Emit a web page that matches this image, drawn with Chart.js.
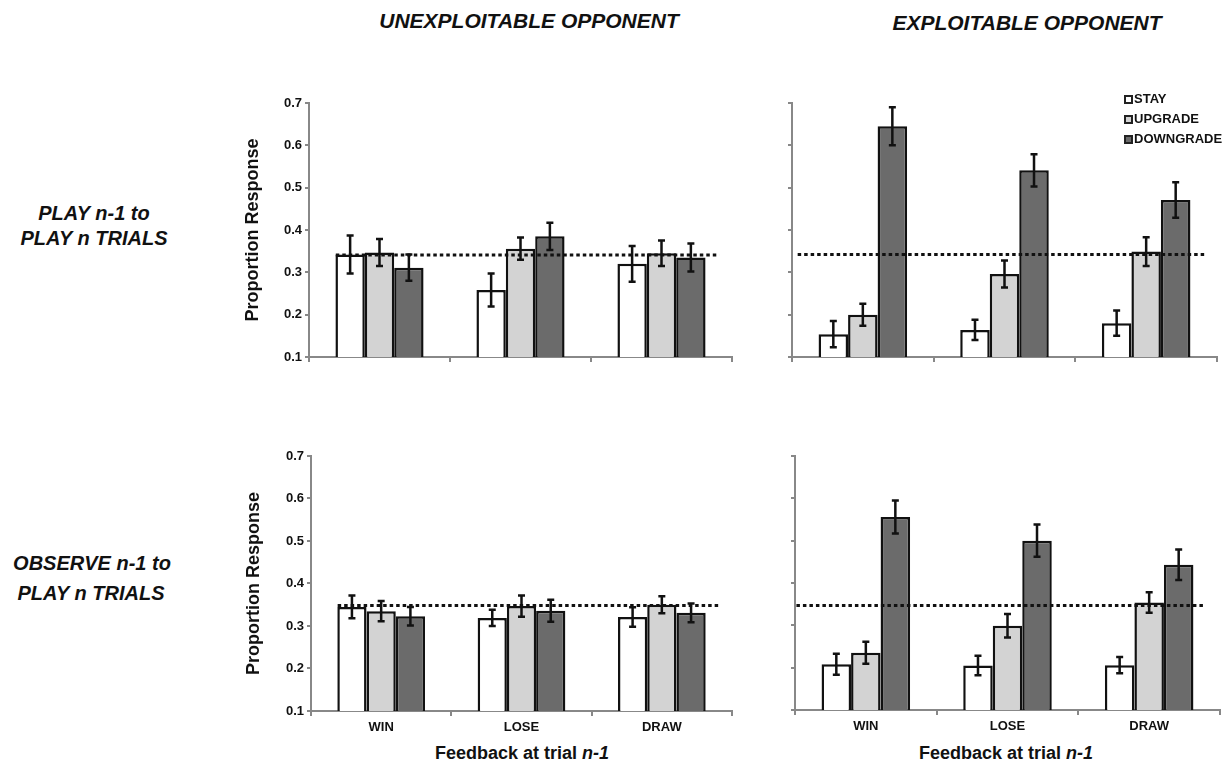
<!DOCTYPE html>
<html>
<head>
<meta charset="utf-8">
<script src="https://cdn.jsdelivr.net/npm/chart.js@4.4.0/dist/chart.umd.min.js"></script>
<style>
  body { margin: 0; background: #fff; width: 1231px; height: 763px; position: relative; overflow: hidden;
         font-family: "Liberation Sans", Arial, sans-serif; color: #111; }
  canvas { position: absolute; }
  .lbl { position: absolute; white-space: nowrap; transform: translate(-50%, -50%); font-weight: bold; }
  .head { font-size: 21px; font-style: italic; }
  .row { font-size: 20px; font-style: italic; }
  .xt { font-size: 18px; }
  .legend { position: absolute; left: 1124px; top: 89px; font-size: 13px; font-weight: bold; z-index: 2; }
  .legend div { height: 20px; line-height: 18px; display: flex; align-items: center; }
  .legend span.sw { width: 9px; height: 9px; box-sizing: border-box; border: 2px solid #222; display: inline-block; margin-right: 1px; }
</style>
</head>
<body>

<div class="lbl head" style="left:529px; top:21px;">UNEXPLOITABLE OPPONENT</div>
<div class="lbl head" style="left:1027px; top:23px;">EXPLOITABLE OPPONENT</div>

<div class="lbl row" style="left:94px; top:213px;">PLAY n-1 to</div>
<div class="lbl row" style="left:94px; top:238px;">PLAY n TRIALS</div>
<div class="lbl row" style="left:92px; top:563px;">OBSERVE n-1 to</div>
<div class="lbl row" style="left:91px; top:593px;">PLAY n TRIALS</div>

<div class="lbl xt" style="left:522px; top:753px;">Feedback at trial <i>n-1</i></div>
<div class="lbl xt" style="left:1006px; top:753px;">Feedback at trial <i>n-1</i></div>

<div class="legend" id="legend"></div>

<canvas id="c1" width="500" height="300" style="left:236px; top:90px;"></canvas>
<canvas id="c2" width="440" height="300" style="left:780px; top:90px;"></canvas>
<canvas id="c3" width="500" height="320" style="left:237px; top:443px;"></canvas>
<canvas id="c4" width="445" height="320" style="left:780px; top:443px;"></canvas>

<script>
// categories and series
const categories = ["WIN", "LOSE", "DRAW"];
const seriesNames = ["STAY", "UPGRADE", "DOWNGRADE"];
const seriesColors = ["#ffffff", "#d3d3d3", "#6b6b6b"];
const yMin = 0.1, yMax = 0.7, yStep = 0.1;

// play n-1 -> play n, unexploitable
const playUnexpStay = [0.342, 0.258, 0.320];
const playUnexpUp   = [0.347, 0.356, 0.345];
const playUnexpDown = [0.311, 0.385, 0.335];
const playUnexpStayErr = [0.045, 0.039, 0.042];
const playUnexpUpErr   = [0.032, 0.026, 0.030];
const playUnexpDownErr = [0.031, 0.032, 0.033];
const playUnexpChance = 0.341;

// play n-1 -> play n, exploitable
const playExpStay = [0.154, 0.164, 0.180];
const playExpUp   = [0.200, 0.296, 0.349];
const playExpDown = [0.645, 0.541, 0.471];
const playExpStayErr = [0.031, 0.024, 0.030];
const playExpUpErr   = [0.026, 0.032, 0.034];
const playExpDownErr = [0.045, 0.038, 0.042];
const playExpChance = 0.342;

// observe n-1 -> play n, unexploitable
const obsUnexpStay = [0.345, 0.319, 0.321];
const obsUnexpUp   = [0.335, 0.347, 0.350];
const obsUnexpDown = [0.323, 0.336, 0.331];
const obsUnexpStayErr = [0.027, 0.019, 0.023];
const obsUnexpUpErr   = [0.024, 0.025, 0.020];
const obsUnexpDownErr = [0.022, 0.026, 0.022];
const obsUnexpChance = 0.348;

// observe n-1 -> play n, exploitable
const obsExpStay = [0.208, 0.205, 0.206];
const obsExpUp   = [0.235, 0.299, 0.354];
const obsExpDown = [0.556, 0.500, 0.443];
const obsExpStayErr = [0.025, 0.023, 0.019];
const obsExpUpErr   = [0.026, 0.028, 0.024];
const obsExpDownErr = [0.039, 0.038, 0.036];
const obsExpChance = 0.347;

// legend (html)
const legendEl = document.getElementById("legend");
seriesNames.forEach((name, i) => {
  legendEl.innerHTML += `<div><span class="sw" style="background:${seriesColors[i]}"></span>${name}</div>`;
});

// dotted chance line + error bars
const errorBarPlugin = {
  id: "errorBars",
  afterDatasetsDraw(chart, args, opts) {
    const ctx = chart.ctx;
    const xs = chart.scales.x, ys = chart.scales.y;
    ctx.save();
    // chance line
    if (opts.chance != null) {
      const yy = ys.getPixelForValue(opts.chance);
      ctx.beginPath();
      ctx.setLineDash([3.5, 3]);
      ctx.lineWidth = 3;
      ctx.strokeStyle = "#111";
      ctx.moveTo(xs.getPixelForValue(opts.from), yy);
      ctx.lineTo(xs.getPixelForValue(opts.to), yy);
      ctx.stroke();
      ctx.setLineDash([]);
    }
    ctx.lineWidth = 2.5;
    ctx.strokeStyle = "#111";
    chart.data.datasets.forEach((ds, di) => {
      const meta = chart.getDatasetMeta(di);
      meta.data.forEach((bar, i) => {
        const v = ds.data[i], e = ds.errors[i];
        const top = ys.getPixelForValue(v + e);
        const bot = ys.getPixelForValue(v - e);
        ctx.beginPath();
        ctx.moveTo(bar.x, top); ctx.lineTo(bar.x, bot);
        ctx.moveTo(bar.x - 3.5, top); ctx.lineTo(bar.x + 3.5, top);
        ctx.moveTo(bar.x - 3.5, bot); ctx.lineTo(bar.x + 3.5, bot);
        ctx.stroke();
      });
    });
    ctx.restore();
  }
};

function makePanel(id, vals, errs, chance, cfg) {
  const datasets = seriesNames.map((name, i) => ({
    label: name,
    data: vals[i],
    errors: errs[i],
    backgroundColor: seriesColors[i],
    borderColor: "#111",
    borderWidth: 2.5,
    categoryPercentage: 0.625,
    barPercentage: 1.0
  }));
  return new Chart(document.getElementById(id), {
    type: "bar",
    data: { labels: categories, datasets: datasets },
    plugins: [errorBarPlugin],
    options: {
      responsive: false,
      animation: false,
      events: [],
      layout: { padding: { top: 13, right: cfg.padRight, bottom: 0, left: 0 } },
      plugins: {
        legend: { display: false },
        tooltip: { enabled: false },
        errorBars: { chance: chance, from: cfg.lineFrom, to: cfg.lineTo }
      },
      scales: {
        x: {
          grid: { offset: true, drawOnChartArea: false, drawTicks: true, tickLength: 5, color: "#888", lineWidth: 2 },
          border: { display: true, color: "#888", width: 2 },
          ticks: { display: cfg.showX, color: "#111", font: { family: "Liberation Sans", size: 13, weight: "bold" }, padding: 4 },
          afterFit: (s) => { s.height = cfg.xHeight; }
        },
        y: {
          min: yMin, max: yMax,
          grid: { drawOnChartArea: false, drawTicks: true, tickLength: 4, color: "#888", lineWidth: 2 },
          border: { display: true, color: "#888", width: 2 },
          ticks: {
            stepSize: yStep, padding: 3, color: "#111",
            font: { family: "Liberation Sans", size: 13, weight: "bold" },
            callback: (v) => cfg.showY ? Number(v).toFixed(1) : ""
          },
          title: {
            display: cfg.showY, text: "Proportion Response", color: "#111",
            font: { family: "Liberation Sans", size: 18, weight: "bold" },
            padding: { top: 6, bottom: 0 }
          },
          afterFit: (s) => { s.width = cfg.yWidth; }
        }
      }
    }
  });
}

makePanel("c1", [playUnexpStay, playUnexpUp, playUnexpDown],
  [playUnexpStayErr, playUnexpUpErr, playUnexpDownErr], playUnexpChance,
  { showX: false, showY: true, yWidth: 73, xHeight: 33, padRight: 4, lineFrom: -0.31, lineTo: 2.41 });

makePanel("c2", [playExpStay, playExpUp, playExpDown],
  [playExpStayErr, playExpUpErr, playExpDownErr], playExpChance,
  { showX: false, showY: false, yWidth: 12, xHeight: 33, padRight: 3, lineFrom: -0.46, lineTo: 2.42 });

makePanel("c3", [obsUnexpStay, obsUnexpUp, obsUnexpDown],
  [obsUnexpStayErr, obsUnexpUpErr, obsUnexpDownErr], obsUnexpChance,
  { showX: true, showY: true, yWidth: 74, xHeight: 52, padRight: 5, lineFrom: -0.31, lineTo: 2.41 });

makePanel("c4", [obsExpStay, obsExpUp, obsExpDown],
  [obsExpStayErr, obsExpUpErr, obsExpDownErr], obsExpChance,
  { showX: true, showY: false, yWidth: 15, xHeight: 53, padRight: 5, lineFrom: -0.49, lineTo: 2.38 });
</script>
</body>
</html>
